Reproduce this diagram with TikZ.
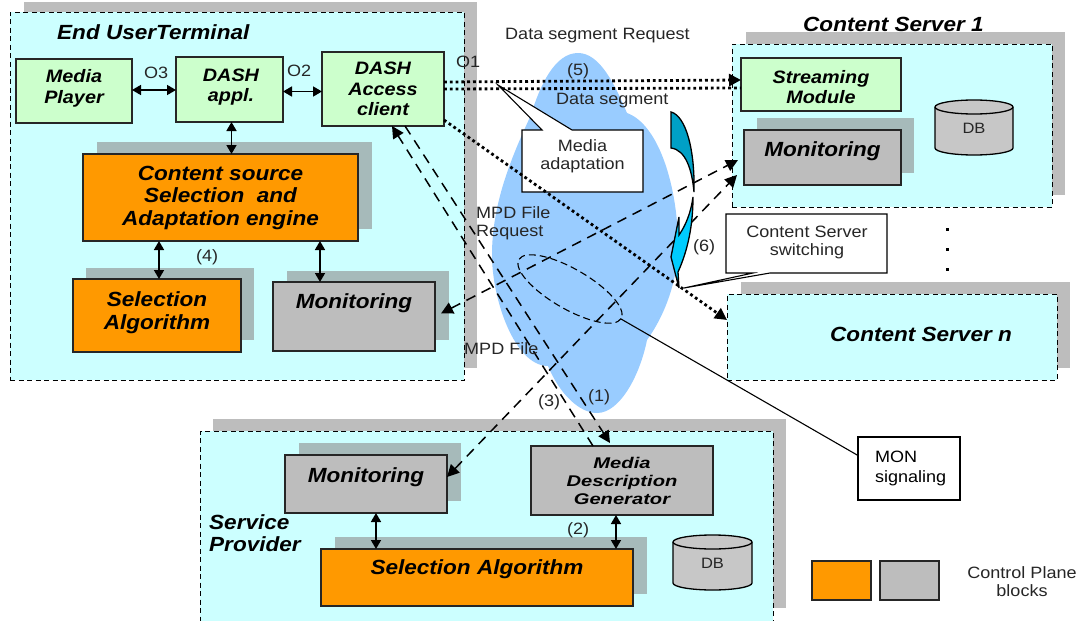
\documentclass[tikz,border=0pt]{standalone}
\usepackage{fontspec}
\setmainfont[FakeStretch=1.1]{Liberation Sans}
\newfontfamily\widefont[FakeStretch=1.3]{Liberation Sans}
\usetikzlibrary{arrows.meta,calc}
\definecolor{cyanbg}{HTML}{CCFFFF}
\definecolor{greenb}{HTML}{CCFFCC}
\definecolor{orangeb}{HTML}{FF9900}
\definecolor{grayb}{HTML}{BDBDBD}
\definecolor{shout}{HTML}{BDBDBD}
\definecolor{shin}{HTML}{A6BABA}
\definecolor{cloudb}{HTML}{99CCFF}
\definecolor{darkb}{HTML}{00A0C6}
\definecolor{lightb}{HTML}{00CCFF}
\tikzset{
 region/.style={draw=black,line width=1pt,fill=cyanbg,dash pattern=on 5pt off 3.5pt},
 blockbox/.style={draw=black!85,line width=1.4pt,align=center,font=\bfseries\itshape,inner sep=0pt},
 greenbox/.style={blockbox,fill=greenb,font=\bfseries\itshape\fontsize{18}{20.5}\selectfont},
 orangebox/.style={blockbox,fill=orangeb,font=\bfseries\itshape\fontsize{20.5}{22.5}\selectfont},
 graybox/.style={blockbox,fill=grayb,font=\bfseries\itshape\fontsize{20.5}{22.5}\selectfont},
 callout/.style={draw=black,line width=1.1pt,fill=white},
 lbl/.style={font=\fontsize{16.4}{18}\selectfont,text=black!85,align=left,inner sep=0pt},
 head/.style={font=\bfseries\itshape\fontsize{20.5}{22}\selectfont,inner sep=0pt,align=left},
 twoway/.style={{Triangle[length=9pt,width=10pt]}-{Triangle[length=9pt,width=10pt]},line width=1.6pt,black},
 dashline/.style={line width=1.5pt,dash pattern=on 10pt off 7pt},
 dotline/.style={line width=2.8pt,dash pattern=on 2.8pt off 3pt},
 tip/.style={-{Triangle[length=12pt,width=12pt]}},
 tiptwo/.style={{Triangle[length=12pt,width=12pt]}-{Triangle[length=12pt,width=12pt]}},
}
\newcommand{\pshadow}[5]{\fill[#1] (#2,#3) rectangle (#4,#5);}
\newcommand{\pbox}[7]{%
 \pgfmathsetmacro{\pw}{#5-#3}\pgfmathsetmacro{\ph}{#6-#4}%
 \node[#2,anchor=north west,minimum width=\pw pt,minimum height=\ph pt,outer sep=0pt] (#1) at (#3,#4) {#7};}
\newcommand{\rais}[2]{\smash{\raisebox{#1pt}{#2}}}
\newcommand{\pdb}[5]{%
 \filldraw[fill=grayb!85!white,draw=black,line width=1.3pt] (#2,#3+7) -- (#2,#5-7) arc[start angle=180,end angle=0,x radius=(#4-#2)/2,y radius=7] -- (#4,#3+7) arc[start angle=0,end angle=-180,x radius=(#4-#2)/2,y radius=7] -- cycle;
 \draw[black,line width=1.3pt] (#2,#3+7) arc[start angle=180,end angle=0,x radius=(#4-#2)/2,y radius=7];
 \node[lbl,font=\fontsize{15}{16}\selectfont] (#1) at ({(#2+#4)/2},{(#3+#5)/2+1}) {DB};}
\begin{document}
\begin{tikzpicture}[x=1pt,y=-1pt]
\useasboundingbox (0,0) rectangle (1080,621);
\fill[white] (0,0) rectangle (1080,621);
% outer shadows
\pshadow{shout}{24}{2}{477}{368}
\pshadow{shout}{746}{32}{1065}{195}
\pshadow{shout}{741}{282}{1070}{368}
\pshadow{shout}{213}{419}{786}{608}
% regions
\pbox{eut}{region}{10}{12}{464}{380}{}
\pbox{cs1}{region}{732}{44}{1052}{207}{}
\pbox{csn}{region}{727}{294}{1057}{380}{}
\pbox{sp}{region}{200}{431}{773}{621}{}
% cloud
\fill[cloudb] (578,53) .. controls (555,53) and (540,85) .. (531,115)
 .. controls (510,160) and (492,205) .. (492,255)
 .. controls (492,300) and (515,366) .. (548,366)
 .. controls (560,395) and (580,413) .. (597,413)
 .. controls (620,413) and (640,375) .. (647,340)
 .. controls (665,315) and (678,280) .. (678,245)
 .. controls (678,190) and (660,125) .. (627,113)
 .. controls (615,85) and (600,53) .. (578,53) -- cycle;
% inner shadows
\pshadow{shin}{97}{142}{372}{229}
\pshadow{shin}{86}{268}{254}{340}
\pshadow{shin}{287}{271}{449}{340}
\pshadow{shin}{757}{118}{914}{173}
\pshadow{shin}{299}{443}{461}{501}
\pshadow{shin}{335}{537}{647}{594}
% blocks
\pbox{mp}{greenbox}{16}{59}{132}{123}{Media\\Player\rule[-9pt]{0pt}{1pt}}
\pbox{da}{greenbox}{176}{57}{283}{122}{\hspace*{3pt}DASH\\\hspace*{3pt}appl.\rule[-9pt]{0pt}{1pt}}
\pbox{dac}{greenbox}{322}{52}{444}{126}{DASH\\Access\\client}
\pbox{cse}{orangebox}{83}{154}{358}{241}{Content source\\Selection~ and\\Adaptation engine}
\pbox{sa}{orangebox}{73}{279}{241}{352}{Selection\\Algorithm\rule[-10pt]{0pt}{1pt}}
\pbox{mon}{graybox}{273}{282}{435}{351}{\rais{8.5}{Monitoring}}
\pbox{sm}{greenbox}{741}{58}{901}{111}{\rule{0pt}{18pt}Streaming\\Module}
\pbox{mon1}{graybox}{744}{130}{901}{185}{\rais{1.5}{Monitoring}}
\pbox{monsp}{graybox}{285}{455}{447}{513}{\rais{2}{Monitoring}}
\pbox{mdg}{graybox,font=\widefont\bfseries\itshape\fontsize{15.5}{18}\selectfont}{531}{446}{713}{515}{Media\\Description\\Generator}
\pbox{sasp}{orangebox}{321}{549}{633}{606}{\rais{3.5}{Selection Algorithm}}
\pbox{lego}{orangebox}{812}{561}{871}{600}{}
\pbox{legg}{graybox}{880}{561}{939}{600}{}
\pdb{db1}{935}{100}{1013}{155}
\pdb{db2}{673}{535}{752}{590}
% short arrows
\draw[twoway] (mp.east) ++(0,-1) coordinate (mpe) (mpe) -- (da.west |- mpe);
\draw[twoway] (da.east) ++(0,2) coordinate (dae) (dae) -- (dac.west |- dae);
\draw[twoway] (da.south) ++(2,0) coordinate (das) (das) -- (cse.north -| das);
\draw[twoway] (sa.north) ++(2,0) coordinate (san) (san) -- (cse.south -| san);
\draw[twoway] (mon.north) ++(-34,0) coordinate (monn) (monn) -- (cse.south -| monn);
\draw[twoway] (sasp.north) ++(-101,0) coordinate (saspn) (saspn) -- (monsp.south -| saspn);
\draw[twoway] (sasp.north) ++(139,0) coordinate (saspm) (saspm) -- (mdg.south -| saspm);
% callouts
\filldraw[callout] (522,130) -- (542,130) -- (498,85) -- (572,130) -- (643,130) -- (643,192) -- (522,192) -- cycle;
\node[lbl,align=center] (ma) at (582.5,156) {Media\\adaptation};
\filldraw[callout] (726,214) -- (887,214) -- (887,273) -- (770,273) -- (684,288) -- (753,273) -- (726,273) -- cycle;
\node[lbl,align=center] (css) at (807,242) {Content Server\\switching};
% dashed connectors
\draw[dashline,tip] (mdg.north) ++(-29,0) coordinate (m1) (m1) -- ([xshift=9pt]dac.south);
\draw[dashline,tip] ([xshift=22pt]dac.south) -- ([xshift=-12pt,yshift=3pt]mdg.north);
\draw[dashline,tiptwo] (mon.east) ++(6,-3) coordinate (mone) (mone) -- ([xshift=-6pt,yshift=-2.5pt]mon1.west);
\draw[dashline,tiptwo] (monsp.east) ++(0,-7) coordinate (mspe) (mspe) -- ([xshift=-7pt,yshift=-17.5pt]mon1.west);
% curved arrow
\filldraw[fill=lightb,draw=black,line width=1.3pt] (693,197) .. controls (693,225) and (688,250) .. (678,272)
 -- (679,288) -- (671,257) -- (679,217) -- (679,235)
 .. controls (686,225) and (691,212) .. (693,197) -- cycle;
\filldraw[fill=darkb,draw=black,line width=1.3pt] (671,112) .. controls (686,116) and (695,150) .. (694,192)
 .. controls (692,170) and (686,150) .. (671,148) -- cycle;
% dotted connectors
\draw[dotline,tip] ([yshift=7pt]dac.east) -- ([yshift=4.5pt]sm.west);
\draw[dotline] (dac.east) -- ([yshift=-3.5pt]sm.west);
\draw[dotline,tip] ([yshift=-31pt]dac.east) -- ([yshift=17pt]csn.west);
% MON
\draw[line width=1.1pt,dash pattern=on 7pt off 4pt,rotate around={-30:(570,289)}] (570,289) ellipse[x radius=59,y radius=20];
\pbox{mons}{callout,font=\fontsize{16.4}{20}\selectfont,align=left,text width=68pt,inner xsep=17pt,inner ysep=0pt}{858}{437}{960}{500}{MON\\signaling}
\coordinate (ell) at (621,319);
\draw[line width=1.1pt] (ell) -- ([yshift=13pt]mons.west);
% labels
\node[head,anchor=west] (t1) at (57,32) {End UserTerminal};
\node[head,anchor=west] (t2) at (803,24) {Content Server 1};
\node[head,anchor=west] (t3) at (830,334) {Content Server n};
\node[head,anchor=west] (t4) at (209,533) {Service\\Provider};
\node[lbl,anchor=west] (lo3) at (144,73) {O3};
\node[lbl,anchor=west] (lo2) at (287,71) {O2};
\node[lbl,anchor=west] (lo1) at (456,62) {O1};
\node[lbl,anchor=west] (ldr) at (505,36) {Data segment Request};
\node[lbl,anchor=west] (l5) at (567,71) {(5)};
\node[lbl,anchor=west] (lds) at (556,101) {Data segment};
\node[lbl,anchor=west] (lmr) at (476,223) {MPD File\\Request};
\node[lbl,anchor=west] (lmf) at (464,349) {MPD File};
\node[lbl,anchor=west] (l6) at (693,247) {(6)};
\node[lbl,anchor=west] (l4) at (196,257) {(4)};
\node[lbl,anchor=west] (l3) at (538,402) {(3)};
\node[lbl,anchor=west] (l1) at (588,397) {(1)};
\node[lbl,anchor=west] (l2) at (567,530) {(2)};
\node[lbl,align=center] (lcp) at (1022,582) {Control Plane\\blocks};
\foreach \yy in {228,248,268} \fill (946,\yy) rectangle (949,\yy+3);
\end{tikzpicture}
\end{document}
